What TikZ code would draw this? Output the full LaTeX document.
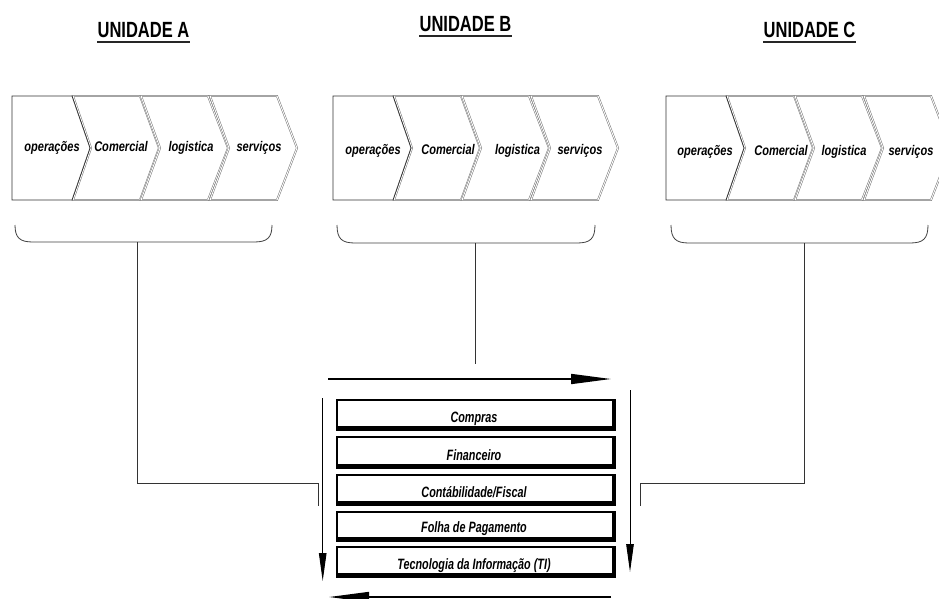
\documentclass[tikz,border=0pt]{standalone}
\usepackage{fontspec}
\setmainfont{Liberation Sans}
\newfontfamily\hdrfont[FakeStretch=0.75]{Liberation Sans}
\newfontfamily\lblfont[FakeStretch=0.79]{Liberation Sans}
\newfontfamily\boxfont[FakeStretch=0.72]{Liberation Sans}
\usetikzlibrary{arrows.meta}
\tikzset{
  hdr/.style={inner sep=0pt, anchor=base, font=\hdrfont\bfseries\fontsize{22}{24}\selectfont},
  hdrline/.style={line width=1.8pt, black!85},
  chevone/.style={draw=black!80, line width=0.8pt, fill=white},
  chevrest/.style={draw=black!55, line width=0.5pt, double=white, double distance=0.9pt},
  chevlbl/.style={inner sep=0pt, anchor=base, font=\lblfont\bfseries\itshape\fontsize{14}{16}\selectfont},
  bracket/.style={draw=black!75, line width=0.8pt},
  conn/.style={draw=black!80, line width=0.8pt},
  boxlbl/.style={inner sep=0pt, anchor=base, font=\boxfont\bfseries\itshape\fontsize{15}{17}\selectfont},
  bigarrow/.style={line width=1.6pt, -{Triangle[length=40pt,width=10pt]}},
  vertarrow/.style={line width=1pt, -{Triangle[length=28pt,width=7.5pt]}},
}
\newcommand\chevrons[1]{% #1 xshift
  \begin{scope}[xshift=#1pt]
    \draw[chevrest] (73,96) -- (140,96) -- (159,148) -- (140,200) -- (73,200) -- (91,148) -- cycle;
    \draw[chevrest] (141,96) -- (208,96) -- (228,148) -- (208,200) -- (141,200) -- (160,148) -- cycle;
    \draw[chevrest] (210,96) -- (277,96) -- (297,148) -- (277,200) -- (210,200) -- (229,148) -- cycle;
    \draw[chevone] (12,96) -- (72,96) -- (90,148) -- (72,200) -- (12,200) -- cycle;
  \end{scope}
}
\newcommand\sectorbox[4]{% #1 name, #2 top, #3 bottom, #4 text
  \fill[black] (336,#2) rectangle (615.5,#3);
  \fill[white] (338,#2+2.3) rectangle (612,#3-5);
  \node[boxlbl] (#1) at (474,#3-9) {#4};
}
\begin{document}
\begin{tikzpicture}[x=1pt,y=-1pt]
\useasboundingbox (0,0) rectangle (939,599);
\clip (0,0) rectangle (939,599);

% headers
\node[hdr] (hA) at (143.5,38) {UNIDADE A};
\node[hdr] (hB) at (465.5,32) {UNIDADE B};
\node[hdr] (hC) at (809.5,38) {UNIDADE C};
\foreach \h in {hA,hB,hC}
  \draw[hdrline] ([yshift=-3.8pt]\h.base west) -- ([yshift=-3.8pt]\h.base east);

% value chains
\chevrons{0}
\chevrons{321}
\chevrons{654}

\node[chevlbl] (aop) at (52,151) {operações};
\node[chevlbl] (aco) at (121,151) {Comercial};
\node[chevlbl] (alo) at (191,151) {logistica};
\node[chevlbl] (ase) at (259,151) {serviços};

\node[chevlbl] (bop) at (373,154) {operações};
\node[chevlbl] (bco) at (448,154) {Comercial};
\node[chevlbl] (blo) at (517.5,154) {logistica};
\node[chevlbl] (bse) at (580,154) {serviços};

\node[chevlbl] (cop) at (705,155) {operações};
\node[chevlbl] (cco) at (781,155) {Comercial};
\node[chevlbl] (clo) at (844,155) {logistica};
\node[chevlbl] (cse) at (911,155) {serviços};

% brackets
\draw[bracket] (15,225) .. controls (15,238) and (20,242) .. (33,242) -- (254,242) .. controls (267,242) and (272,238) .. (272,225);
\draw[bracket] (337,225) .. controls (337,239) and (342,243) .. (355,243) -- (577,243) .. controls (590,243) and (595,239) .. (595,225);
\draw[bracket] (671,225) .. controls (671,239) and (676,243) .. (689,243) -- (910,243) .. controls (923,243) and (928,239) .. (928,225);
\coordinate (stemA) at (137,242);
\coordinate (stemB) at (475,243);
\coordinate (stemC) at (804.5,243);

% shared services boxes
\sectorbox{compras}{399}{431}{Compras}
\sectorbox{financeiro}{436}{469}{Financeiro}
\sectorbox{contab}{474}{506}{Contábilidade/Fiscal}
\sectorbox{folha}{510.5}{541.5}{Folha de Pagamento}
\sectorbox{ti}{546}{578}{Tecnologia da Informação (TI)}

% connector end points
\coordinate (endA) at (318,506);
\coordinate (endB) at (475,364);
\coordinate (endC) at (640,506);

\draw[conn] (stemA) |- (318,483) -- (endA);
\draw[conn] (stemB) -- (endB);
\draw[conn] (stemC) |- (640,483) -- (endC);

% circulation arrows
\coordinate (tA) at (328,379);
\coordinate (tB) at (611,379);
\coordinate (rA) at (630,390);
\coordinate (rB) at (630,572);
\coordinate (bA) at (611,597);
\coordinate (bB) at (329,597);
\coordinate (lA) at (322.7,398);
\coordinate (lB) at (322.7,581);
\draw[bigarrow] (tA) -- (tB);
\draw[vertarrow] (rA) -- (rB);
\draw[bigarrow] (bA) -- (bB);
\draw[vertarrow] (lA) -- (lB);
\end{tikzpicture}
\end{document}
